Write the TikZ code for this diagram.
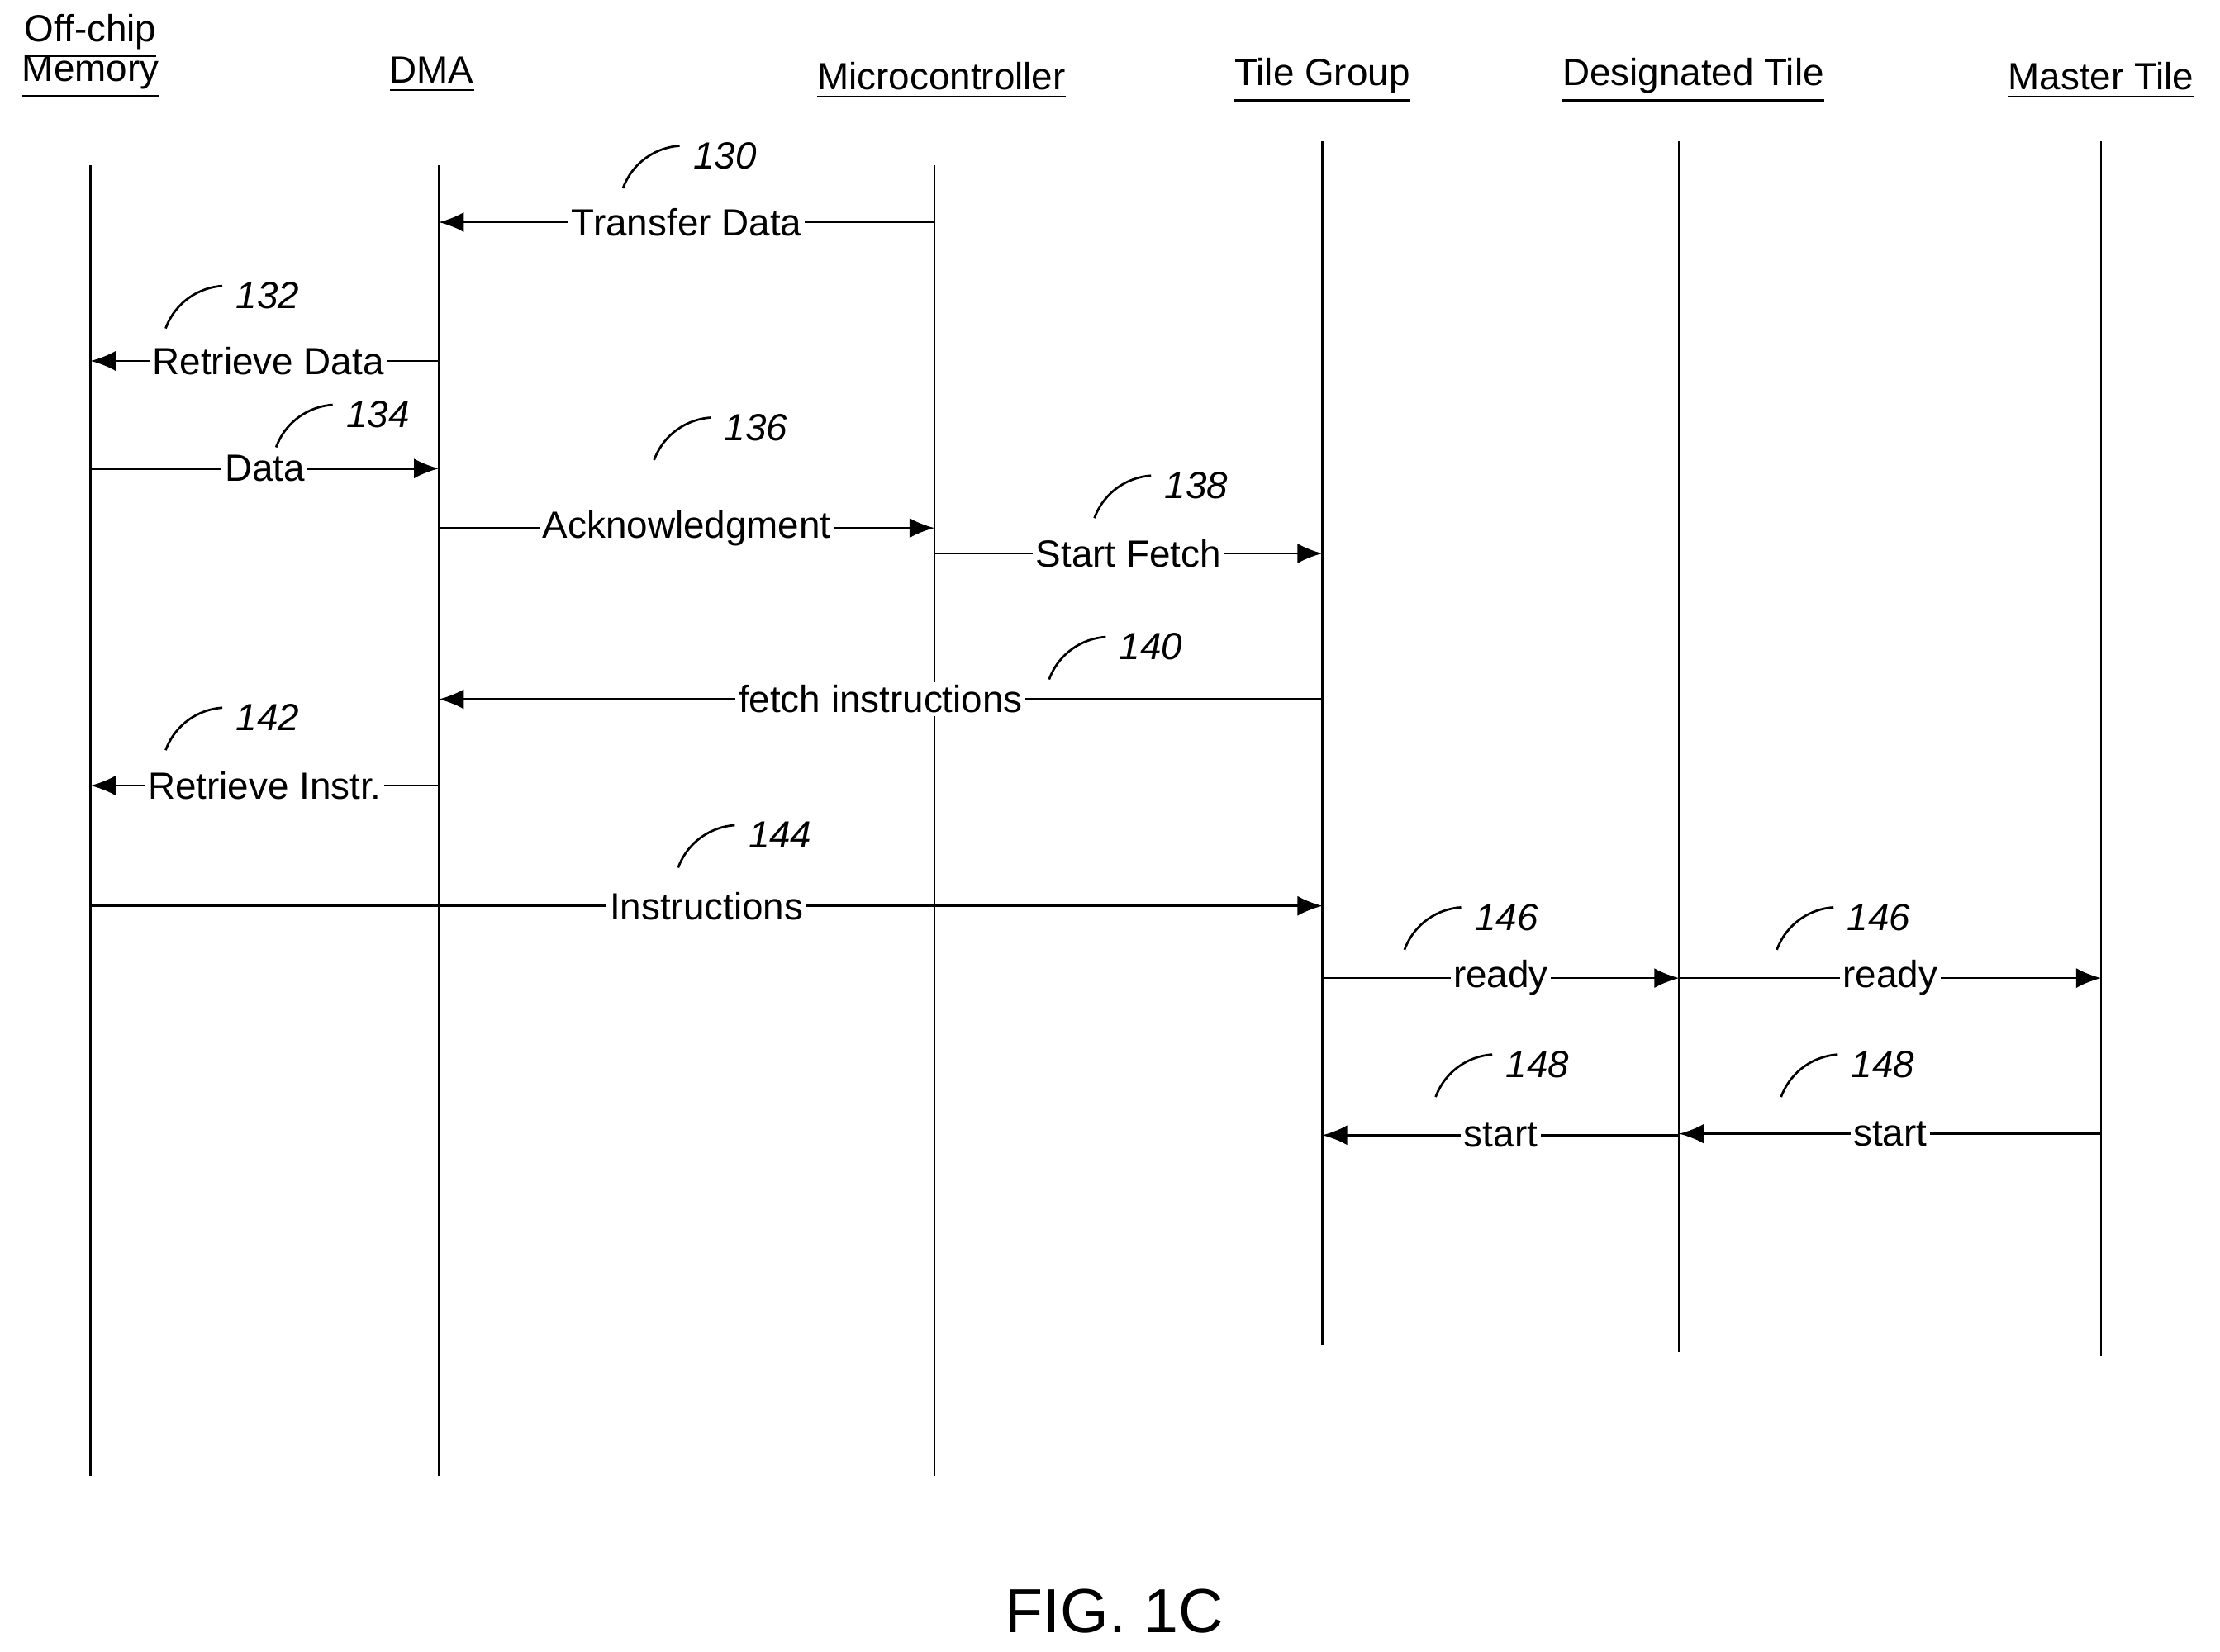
\documentclass[tikz,border=0pt]{standalone}
\usepackage{fontspec}
\setmainfont{Liberation Sans}
\usetikzlibrary{arrows.meta}

\newcommand{\refnum}[3]{%
  \draw[hook] (#1-49,#2+23) .. controls (#1-42,#2+4) and (#1-25,#2-6) .. (#1-9,#2-7);
  \node[num] at (#1,#2) {#3};}

\begin{document}
\begin{tikzpicture}[x=0.01cm,y=-0.01cm,>={Latex[length=5pt,width=4pt]},
	font=\fontsize{7.6}{9}\selectfont,
	head/.style={align=center, inner sep=0pt},
	life/.style={line width=0.45pt},
	msg/.style={->, line width=0.45pt},
	lab/.style={fill=white, inner sep=0.6pt},
	num/.style={anchor=west, inner sep=0pt, font=\fontsize{7.6}{9}\selectfont\itshape},
	hook/.style={line width=0.45pt}]
	\useasboundingbox (0,0) rectangle (1568,1167);
	
	\node[head] (mem) at (64,40) {\underline{Off-chip}\\[-1pt]\underline{Memory}};
	\node[head] (dma) at (305,53) {\underline{DMA}};
	\node[head] (mc) at (665,57) {\underline{Microcontroller}};
	\node[head] (tg) at (934,57) {\underline{Tile Group}};
	\node[head] (dt) at (1196,57) {\underline{Designated Tile}};
	\node[head] (mt) at (1484,57) {\underline{Master Tile}};
	
	% lifelines
	\coordinate (memT) at (64,117);  \coordinate (memB) at (64,1043);
	\coordinate (dmaT) at (310,117); \coordinate (dmaB) at (310,1043);
	\coordinate (mcT) at (660,117);  \coordinate (mcB) at (660,1043);
	\coordinate (tgT) at (934,100);  \coordinate (tgB) at (934,950);
	\coordinate (dtT) at (1186,100); \coordinate (dtB) at (1186,955);
	\coordinate (mtT) at (1484,100); \coordinate (mtB) at (1484,958);
	\foreach \l in {mem,dma,mc,tg,dt,mt}
		\draw[life] (\l T) -- (\l B);
	
	% messages
	\draw[msg] (mcT |- 0,157) -- node[lab,pos=0.5] {Transfer Data} (dmaT |- 0,157);
	\draw[msg] (dmaT |- 0,255) -- node[lab,pos=0.49] {Retrieve Data} (memT |- 0,255);
	\draw[msg] (memT |- 0,331) -- node[lab,pos=0.5] {Data} (dmaT |- 0,331);
	\draw[msg] (dmaT |- 0,373) -- node[lab,pos=0.5] {Acknowledgment} (mcT |- 0,373);
	\draw[msg] (mcT |- 0,391) -- node[lab,pos=0.5] {Start Fetch} (tgT |- 0,391);
	\draw[msg] (tgT |- 0,494) -- node[lab,pos=0.50] {fetch instructions} (dmaT |- 0,494);
	\draw[msg] (dmaT |- 0,555) -- node[lab,pos=0.5] {Retrieve Instr.} (memT |- 0,555);
	\draw[msg] (memT |- 0,640) -- node[lab,pos=0.5] {Instructions} (tgT |- 0,640);
	\draw[msg] (tgT |- 0,691) -- node[lab,pos=0.5] {ready} (dtT |- 0,691);
	\draw[msg] (dtT |- 0,691) -- node[lab,pos=0.5] {ready} (mtT |- 0,691);
	\draw[msg] (dtT |- 0,802) -- node[lab,pos=0.5] {start} (tgT |- 0,802);
	\draw[msg] (mtT |- 0,801) -- node[lab,pos=0.5] {start} (dtT |- 0,801);
	
	% reference numerals
	\refnum{489}{110}{130}
	\refnum{166}{209}{132}
	\refnum{244}{293}{134}
	\refnum{511}{302}{136}
	\refnum{822}{343}{138}
	\refnum{790}{457}{140}
	\refnum{166}{507}{142}
	\refnum{528}{590}{144}
	\refnum{1041}{648}{146}
	\refnum{1304}{648}{146}
	\refnum{1063}{752}{148}
	\refnum{1307}{752}{148}
	
	\node[font=\fontsize{12.5}{14}\selectfont] (fig) at (787,1138) {FIG. 1C};
\end{tikzpicture}
\end{document}
